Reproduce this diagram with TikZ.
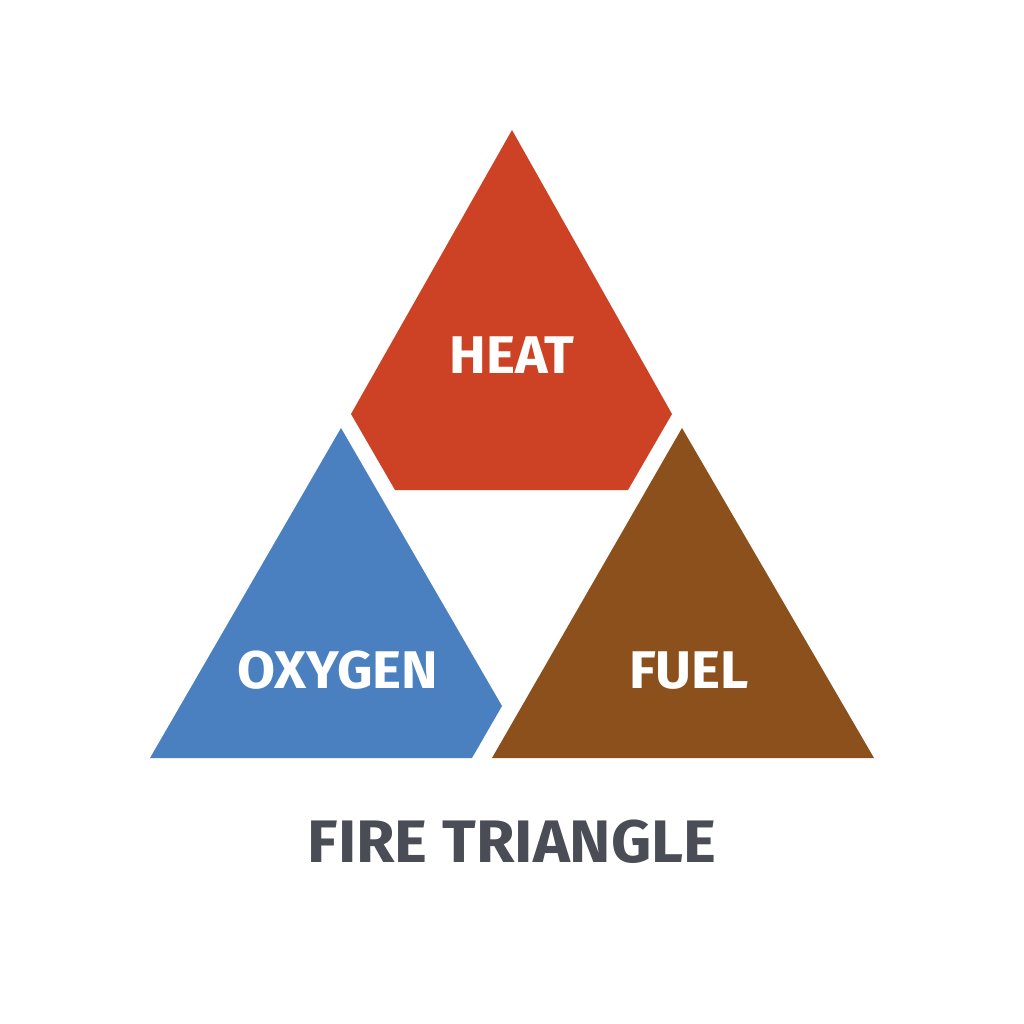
\documentclass[tikz,border=0pt]{standalone}
\usepackage{fontspec}
\setmainfont{Fira Sans}[FakeStretch=1.04]
\definecolor{heatc}{RGB}{205,66,36}
\definecolor{oxyc}{RGB}{74,127,192}
\definecolor{fuelc}{RGB}{139,80,27}
\definecolor{titlec}{RGB}{74,77,85}
\tikzset{
  piece/.style={draw=none},
  lbl/.style={text=white, font=\fontsize{53}{53}\selectfont\bfseries, inner sep=0pt, anchor=base},
  ttl/.style={text=titlec, font=\fontsize{60}{60}\selectfont\bfseries, inner sep=0pt, anchor=base}
}
\begin{document}
\begin{tikzpicture}[x=1pt,y=-1pt]
\useasboundingbox[fill=white] (0,0) rectangle (1024,1024);
% heat pentagon
\fill[heatc,piece] (512,130) -- (672,414) -- (628,490) -- (395,490) -- (351,414) -- cycle;
% oxygen quadrilateral
\fill[oxyc,piece] (341,428) -- (502,706) -- (472,758) -- (150,758) -- cycle;
% fuel triangle
\fill[fuelc,piece] (682,428) -- (874,758) -- (492,758) -- cycle;
\node[lbl] (heat) at (512,373) {HEAT};
\node[lbl] (oxygen) at (338,688) {OXYGEN};
\node[lbl] (fuel) at (689,688) {FUEL};
\node[ttl] (title) at (512,862) {FIRE TRIANGLE};
\end{tikzpicture}
\end{document}
